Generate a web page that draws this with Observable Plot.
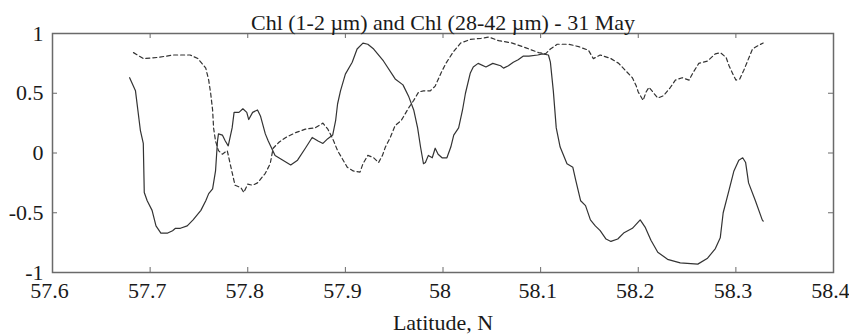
<!DOCTYPE html>
<html>
<head>
<meta charset="utf-8">
<script src="https://cdn.jsdelivr.net/npm/d3@7"></script>
<script src="https://cdn.jsdelivr.net/npm/@observablehq/plot@0.6"></script>
<style>
  html, body { margin: 0; padding: 0; background: #ffffff; }
  #chart svg { display: block; }
</style>
</head>
<body>
<div id="chart"></div>
<script>
const titleText = "Chl (1-2 µm) and Chl (28-42 µm) - 31 May";
const xLabelText = "Latitude, N";

const xTicks = [57.6, 57.7, 57.8, 57.9, 58.0, 58.1, 58.2, 58.3, 58.4];
const xTickLabels = ["57.6", "57.7", "57.8", "57.9", "58", "58.1", "58.2", "58.3", "58.4"];
const yTicks = [-1, -0.5, 0, 0.5, 1];
const yTickLabels = ["-1", "-0.5", "0", "0.5", "1"];

// Chl (1-2 µm) — solid line
const solidLat = [57.679, 57.685, 57.690, 57.693, 57.694, 57.697, 57.702, 57.706, 57.711, 57.718,
  57.723, 57.726, 57.731, 57.738, 57.744, 57.752, 57.757, 57.760, 57.764, 57.767,
  57.769, 57.770, 57.774, 57.777, 57.780, 57.784, 57.786, 57.791, 57.795, 57.799,
  57.801, 57.805, 57.810, 57.813, 57.818, 57.821, 57.828, 57.836, 57.844, 57.851,
  57.859, 57.866, 57.872, 57.877, 57.882, 57.887, 57.890, 57.892, 57.895, 57.900,
  57.907, 57.912, 57.918, 57.923, 57.929, 57.939, 57.951, 57.959, 57.965, 57.970,
  57.974, 57.977, 57.980, 57.982, 57.985, 57.989, 57.992, 57.995, 57.999, 58.004,
  58.008, 58.011, 58.016, 58.020, 58.023, 58.028, 58.031, 58.036, 58.044, 58.051,
  58.059, 58.062, 58.067, 58.072, 58.077, 58.082, 58.088, 58.097, 58.102, 58.108,
  58.110, 58.113, 58.116, 58.120, 58.127, 58.133, 58.136, 58.141, 58.146, 58.151,
  58.156, 58.161, 58.167, 58.172, 58.179, 58.185, 58.194, 58.202, 58.207, 58.213,
  58.220, 58.230, 58.243, 58.261, 58.271, 58.279, 58.284, 58.287, 58.293, 58.298,
  58.303, 58.307, 58.310, 58.313, 58.320, 58.327, 58.328];
const solidVal = [0.63, 0.52, 0.19, 0.08, -0.33, -0.40, -0.48, -0.61, -0.67, -0.67,
  -0.65, -0.63, -0.63, -0.61, -0.56, -0.48, -0.40, -0.34, -0.30, -0.15,
  0.10, 0.16, 0.15, 0.10, 0.06, 0.21, 0.34, 0.34, 0.37, 0.34,
  0.28, 0.34, 0.36, 0.31, 0.16, 0.10, -0.02, -0.06, -0.10, -0.06,
  0.04, 0.13, 0.10, 0.08, 0.12, 0.15, 0.27, 0.41, 0.52, 0.66,
  0.76, 0.87, 0.92, 0.91, 0.87, 0.77, 0.62, 0.57, 0.47, 0.36,
  0.21, 0.05, -0.09, -0.08, -0.02, -0.04, 0.04, -0.01, -0.04, -0.04,
  0.05, 0.15, 0.21, 0.36, 0.50, 0.67, 0.72, 0.75, 0.72, 0.75,
  0.73, 0.71, 0.73, 0.76, 0.78, 0.81, 0.81, 0.82, 0.83, 0.82,
  0.76, 0.52, 0.21, 0.05, -0.09, -0.12, -0.23, -0.40, -0.44, -0.56,
  -0.61, -0.65, -0.72, -0.74, -0.72, -0.67, -0.63, -0.56, -0.62, -0.73,
  -0.83, -0.89, -0.92, -0.93, -0.88, -0.80, -0.71, -0.50, -0.31, -0.15,
  -0.06, -0.04, -0.08, -0.25, -0.40, -0.56, -0.57];

// Chl (28-42 µm) — dashed line
const dashLat = [57.683, 57.693, 57.708, 57.724, 57.741, 57.749, 57.757, 57.760, 57.762, 57.764,
  57.765, 57.767, 57.770, 57.774, 57.779, 57.782, 57.785, 57.787, 57.793, 57.796,
  57.800, 57.805, 57.810, 57.818, 57.823, 57.826, 57.832, 57.839, 57.849, 57.859,
  57.869, 57.877, 57.882, 57.887, 57.892, 57.897, 57.902, 57.908, 57.915, 57.918,
  57.923, 57.929, 57.934, 57.938, 57.941, 57.946, 57.951, 57.957, 57.960, 57.965,
  57.970, 57.975, 57.980, 57.987, 57.992, 57.998, 58.003, 58.010, 58.018, 58.028,
  58.039, 58.047, 58.057, 58.071, 58.085, 58.098, 58.105, 58.110, 58.117, 58.129,
  58.139, 58.149, 58.154, 58.161, 58.172, 58.180, 58.187, 58.194, 58.198, 58.200,
  58.205, 58.208, 58.211, 58.216, 58.220, 58.226, 58.233, 58.238, 58.245, 58.252,
  58.256, 58.262, 58.271, 58.279, 58.284, 58.290, 58.293, 58.297, 58.300, 58.304,
  58.308, 58.312, 58.317, 58.323, 58.328];
const dashVal = [0.84, 0.79, 0.80, 0.82, 0.82, 0.79, 0.71, 0.61, 0.50, 0.36,
  0.21, 0.10, 0.02, -0.01, 0.02, -0.09, -0.20, -0.27, -0.29, -0.33,
  -0.26, -0.27, -0.25, -0.17, -0.09, 0.04, 0.09, 0.13, 0.17, 0.20,
  0.21, 0.25, 0.20, 0.12, 0.02, -0.05, -0.12, -0.15, -0.16, -0.09,
  -0.02, -0.04, -0.08, -0.02, 0.05, 0.13, 0.23, 0.27, 0.31, 0.38,
  0.44, 0.51, 0.52, 0.52, 0.56, 0.67, 0.75, 0.84, 0.92, 0.95,
  0.96, 0.97, 0.94, 0.92, 0.88, 0.84, 0.83, 0.87, 0.91, 0.91,
  0.89, 0.86, 0.79, 0.82, 0.79, 0.75, 0.69, 0.63, 0.56, 0.51,
  0.44, 0.51, 0.55, 0.50, 0.46, 0.48, 0.55, 0.61, 0.63, 0.61,
  0.67, 0.75, 0.77, 0.83, 0.84, 0.80, 0.73, 0.66, 0.61, 0.62,
  0.69, 0.77, 0.87, 0.90, 0.92];

const solid = solidLat.map((x, i) => ({x, y: solidVal[i]}));
const dashed = dashLat.map((x, i) => ({x, y: dashVal[i]}));
const xTickData = xTicks.map((v, i) => ({v, label: xTickLabels[i]}));
const yTickData = yTicks.map((v, i) => ({v, label: yTickLabels[i]}));

const W = 849, H = 335;
const mL = 52, mR = 16, mT = 33, mB = 63;
const innerW = W - mL - mR, innerH = H - mT - mB;
const tickLen = 5;
const font = "Liberation Serif, Times New Roman, serif";
const textColor = "#1a1a1a";
const axisColor = "#6a6a6a";

const chart = Plot.plot({
  width: W,
  height: H,
  marginLeft: mL,
  marginRight: mR,
  marginTop: mT,
  marginBottom: mB,
  style: {fontFamily: font, fontSize: "22px", background: "#ffffff", color: textColor},
  x: {domain: [57.6, 58.4], axis: null},
  y: {domain: [-1, 1], axis: null},
  marks: [
    Plot.frame({stroke: axisColor, strokeWidth: 1.5}),
    // inward ticks on all four sides
    Plot.ruleX(xTickData, {x: "v", insetTop: innerH - tickLen, stroke: axisColor, strokeWidth: 1}),
    Plot.ruleX(xTickData, {x: "v", insetBottom: innerH - tickLen, stroke: axisColor, strokeWidth: 1}),
    Plot.ruleY(yTickData, {y: "v", insetRight: innerW - tickLen, stroke: axisColor, strokeWidth: 1}),
    Plot.ruleY(yTickData, {y: "v", insetLeft: innerW - tickLen, stroke: axisColor, strokeWidth: 1}),
    Plot.line(dashed, {x: "x", y: "y", stroke: "#333", strokeWidth: 1.2, strokeDasharray: "4,3"}),
    Plot.line(solid, {x: "x", y: "y", stroke: "#333", strokeWidth: 1.2}),
    Plot.text(xTickData, {x: "v", text: "label", frameAnchor: "bottom", dx: -3, dy: 18, lineAnchor: "middle",
      fontSize: 22, fill: textColor}),
    Plot.text(yTickData, {y: "v", text: "label", frameAnchor: "left", dx: -9, textAnchor: "end",
      lineAnchor: "middle", fontSize: 22, fill: textColor}),
    Plot.text([titleText], {frameAnchor: "top", dy: -11, lineAnchor: "middle", fontSize: 22, fill: textColor}),
    Plot.text([xLabelText], {frameAnchor: "bottom", dy: 50, lineAnchor: "middle", fontSize: 22, fill: textColor})
  ]
});
document.getElementById("chart").appendChild(chart);
</script>
</body>
</html>
